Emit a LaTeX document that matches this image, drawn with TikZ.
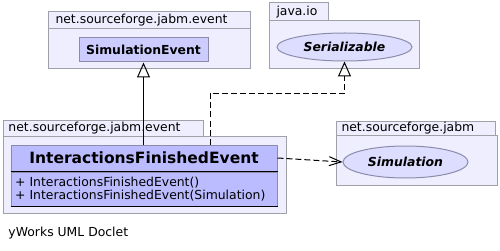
\documentclass[tikz,border=0pt]{standalone}
\usepackage{fontspec}
\setmainfont{DejaVu Sans}
\usetikzlibrary{shapes.geometric,arrows.meta,positioning}

\definecolor{pkgfill}{HTML}{EEEEFF}
\definecolor{pkgline}{HTML}{A0A0A8}
\definecolor{clsfill}{HTML}{CCCCFF}
\definecolor{ifefill}{HTML}{BBBBFF}
\definecolor{clsline}{HTML}{8C8CAA}
\definecolor{ifcfill}{HTML}{DDDDFF}

\newcommand{\umlfont}{\fontsize{12.4}{15}\selectfont}

\tikzset{
  pkg/.style={draw=pkgline, fill=pkgfill},
  pkglabel/.style={anchor=west, inner sep=0pt, font=\umlfont},
  classbox/.style={draw=clsline, fill=clsfill, inner sep=0pt, font=\umlfont\bfseries},
  iface/.style={ellipse, draw=clsline, fill=ifcfill, inner sep=0pt, font=\umlfont\bfseries\itshape},
  generalize/.style={-{Triangle[open,length=15pt,width=13pt]}},
  realize/.style={generalize, dash pattern=on 6pt off 3pt},
  depend/.style={-{Straight Barb[length=12pt,width=9pt]}, dash pattern=on 6pt off 3pt},
}

\begin{document}
\begin{tikzpicture}[x=1pt,y=-1pt,line width=1pt]
  \useasboundingbox (0,0) rectangle (500,251);

  % packages: tab + body
  \draw[pkg] (48,12) rectangle (250,29);
  \draw[pkg] (48,29) rectangle (250,69);
  \node[pkglabel] (evpkg) at (55,20.5) {net.sourceforge.jabm.event};

  \draw[pkg] (269,3) rectangle (328,21);
  \draw[pkg] (269,21) rectangle (419,69);
  \node[pkglabel] (iopkg) at (276,12) {java.io};

  \draw[pkg] (3,120) rectangle (203,136);
  \draw[pkg] (3,136) rectangle (286,213);
  \node[pkglabel] (evpkg2) at (8,128) {net.sourceforge.jabm.event};

  \draw[pkg] (336,121) rectangle (495,135);
  \draw[pkg] (336,135) rectangle (497,185);
  \node[pkglabel] (jabmpkg) at (341,128) {net.sourceforge.jabm};

  % classes and interfaces
  \node[classbox, minimum width=129pt, minimum height=24pt] (simev) at (143.5,50) {SimulationEvent};
  \node[iface, minimum width=135pt, minimum height=28pt] (ser) at (344.5,47) {Serializable};
  \node[iface, minimum width=125pt, minimum height=32pt] (sim) at (405.5,162) {Simulation};

  \node[classbox, fill=ifefill, minimum width=266pt, minimum height=26pt,
        font=\fontsize{15.5}{18}\selectfont\bfseries] (ife) at (144,158) {InteractionsFinishedEvent};
  \node[classbox, fill=ifefill, font=\umlfont, below=0pt of ife, minimum width=266pt,
        minimum height=34pt, text width=258pt, align=left] (ifeops)
    {+ InteractionsFinishedEvent()\\[-1.5pt]+ InteractionsFinishedEvent(Simulation)};
  \draw[black, line width=1.5pt] (ife.south west) -- (ife.south east);
  \draw[black, line width=1.5pt] (ifeops.south west) -- (ifeops.south east);

  % relations
  \draw[generalize] (ife.north -| simev.south) -- (simev.south);
  \draw[realize] ([xshift=66pt]ife.north) -- ++(0,-51) -| (ser.south);
  \draw[depend] (ife.east) -- (sim.west);

  \node[pkglabel] (doclet) at (8,233) {yWorks UML Doclet};
\end{tikzpicture}
\end{document}
